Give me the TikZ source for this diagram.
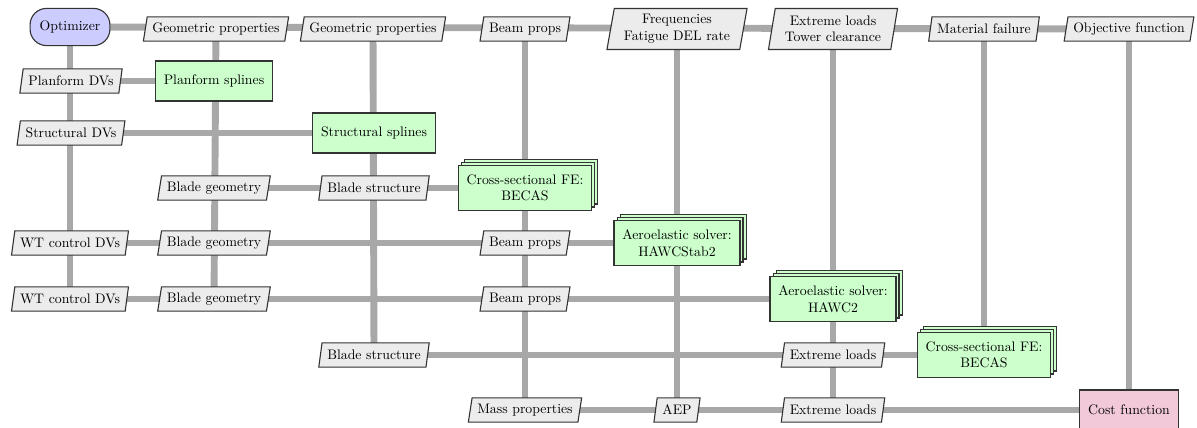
\documentclass[tikz,border=0pt]{standalone}
\usetikzlibrary{shapes.geometric,shadows}
\definecolor{optblue}{RGB}{204,204,255}
\definecolor{fungreen}{RGB}{204,255,204}
\definecolor{costpink}{RGB}{242,201,216}
\definecolor{datagray}{RGB}{236,236,236}
\definecolor{linegray}{RGB}{168,168,168}
\pgfdeclarelayer{background}
\pgfsetlayers{background,main}
\tikzset{
  x=0.725pt, y=-0.725pt,
  every node/.style={font=\fontsize{10}{12}\selectfont, align=center},
  optbox/.style={draw=black!80, line width=0.8pt, fill=optblue, rounded corners=12pt,
    minimum height=27pt, inner xsep=7pt},
  databox/.style={draw=black!80, line width=0.8pt, fill=datagray, trapezium,
    trapezium left angle=78, trapezium right angle=102, trapezium stretches body=true,
    inner xsep=3.8pt, inner ysep=2pt, minimum height=17.5pt},
  databoxtwo/.style={databox, inner xsep=7pt, minimum height=29.7pt},
  funbox/.style={draw=black!80, line width=0.8pt, fill=fungreen, minimum height=29pt, inner xsep=6pt},
  stackbox/.style={funbox, minimum height=32pt, inner xsep=6pt,
    double copy shadow={shadow xshift=2.2pt, shadow yshift=2.2pt}},
  costbox/.style={draw=black!80, line width=0.8pt, fill=costpink, minimum height=29pt, inner xsep=6pt},
  conn/.style={draw=linegray, line width=5pt},
}
\begin{document}
\begin{tikzpicture}
\useasboundingbox (0,0) rectangle (1197,428);
% row 0
\node[optbox] (opt) at (70,27) {Optimizer};
\node[databox] (gp1) at (216,29) {Geometric properties};
\node[databox] (gp2) at (373,29) {Geometric properties};
\node[databox] (bp0) at (525,29) {Beam props};
\node[databoxtwo] (freq) at (677,29) {Frequencies\\Fatigue DEL rate};
\node[databoxtwo] (ext0) at (833,29) {Extreme loads\\Tower clearance};
\node[databox] (mat) at (984,29) {Material failure};
\node[databox] (obj) at (1129,29) {Objective function};
% row 1
\node[databox] (pdv) at (71,81) {Planform DVs};
\node[funbox] (pspl) at (214,81) {Planform splines};
% row 2
\node[databox] (sdv) at (71,133) {Structural DVs};
\node[funbox] (sspl) at (374,133) {Structural splines};
% row 3
\node[databox] (bg3) at (214,188) {Blade geometry};
\node[databox] (bs3) at (374,188) {Blade structure};
\node[stackbox] (becas1) at (525,188) {Cross-sectional FE:\\BECAS};
% row 4
\node[databox] (wt4) at (70,243) {WT control DVs};
\node[databox] (bg4) at (214,243) {Blade geometry};
\node[databox] (bp4) at (525,243) {Beam props};
\node[stackbox] (hs2) at (677,243) {Aeroelastic solver:\\HAWCStab2};
% row 5
\node[databox] (wt5) at (70,299) {WT control DVs};
\node[databox] (bg5) at (214,299) {Blade geometry};
\node[databox] (bp5) at (525,299) {Beam props};
\node[stackbox] (h2) at (833,299) {Aeroelastic solver:\\HAWC2};
% row 6
\node[databox] (bs6) at (374,355) {Blade structure};
\node[databox] (ext6) at (833,355) {Extreme loads};
\node[stackbox] (becas2) at (984,355) {Cross-sectional FE:\\BECAS};
% row 7
\node[databox] (mass) at (525,410) {Mass properties};
\node[databox] (aep) at (677,410) {AEP};
\node[databox] (ext7) at (833,410) {Extreme loads};
\node[costbox] (cost) at (1129,410) {Cost function};
\begin{pgfonlayer}{background}
% vertical
\draw[conn] (opt.center) -- (wt5.center);
\draw[conn] (gp1.center) -- (bg5.center);
\draw[conn] (gp2.center) -- (bs6.center);
\draw[conn] (bp0.center) -- (mass.center);
\draw[conn] (freq.center) -- (aep.center);
\draw[conn] (ext0.center) -- (ext7.center);
\draw[conn] (mat.center) -- (becas2.center);
\draw[conn] (obj.center) -- (cost.center);
% horizontal
\draw[conn] (opt.center) -- (obj.center);
\draw[conn] (pdv.center) -- (pspl.center);
\draw[conn] (sdv.center) -- (sspl.center);
\draw[conn] (bg3.center) -- (becas1.center);
\draw[conn] (wt4.center) -- (hs2.center);
\draw[conn] (wt5.center) -- (h2.center);
\draw[conn] (bs6.center) -- (becas2.center);
\draw[conn] (mass.center) -- (cost.center);
\end{pgfonlayer}
\end{tikzpicture}
\end{document}
